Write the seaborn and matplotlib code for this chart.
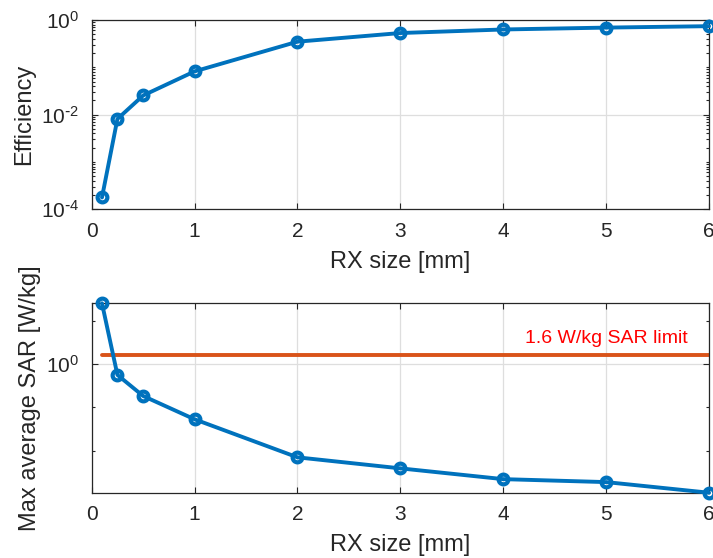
import numpy as np
import pandas as pd
import seaborn as sns
import matplotlib.pyplot as plt
from matplotlib.ticker import NullFormatter

# values
rx_size = [0.1, 0.25, 0.5, 1, 2, 3, 4, 5, 6]
efficiency = [1.78e-4, 0.0081, 0.0254, 0.082, 0.348, 0.53, 0.63, 0.69, 0.74]
max_sar = [25.0, 0.557, 0.182, 0.0528, 0.0070, 0.0039, 0.0022, 0.00188, 0.00107]
sar_limit = 1.6
limit_label = "1.6 W/kg SAR limit"
x_ticks = [0, 1, 2, 3, 4, 5, 6]
eff_ticks = [1e-4, 1e-2, 1e0]
eff_ticklabels = [r"$10^{\text{-}4}$", r"$10^{\text{-}2}$", r"$10^{0}$"]
sar_ticks = [1e0]
sar_ticklabels = [r"$10^{0}$"]
sar_minor = [1e1, 1e-1, 1e-2]

blue = "#0072BD"
orange = "#D95319"
dark = "#262626"

sns.set_style("ticks")
plt.rcParams['font.family'] = ['Liberation Sans', 'DejaVu Sans']
plt.rcParams['mathtext.default'] = 'regular'

df = pd.DataFrame({"rx": rx_size, "eff": efficiency, "sar": max_sar})
limit_df = pd.DataFrame({"rx": [rx_size[0], rx_size[-1]], "sar": [sar_limit, sar_limit]})

fig = plt.figure(figsize=(7.13, 5.58), dpi=100)
ax1 = fig.add_axes([0.1286, 0.6249, 0.8658, 0.3393])
ax2 = fig.add_axes([0.1286, 0.1170, 0.8658, 0.3395])

line_kw = dict(color=blue, lw=2.8, marker='o', markersize=7,
               markerfacecolor='none', markeredgecolor=blue,
               markeredgewidth=3.0, clip_on=False, zorder=3)

sns.lineplot(data=df, x="rx", y="eff", ax=ax1, **line_kw)
sns.lineplot(data=limit_df, x="rx", y="sar", ax=ax2, color=orange, lw=2.8, zorder=2)
sns.lineplot(data=df, x="rx", y="sar", ax=ax2, **line_kw)

ax1.set_yscale('log')
ax1.set_ylim(1e-4, 1)
ax1.set_yticks(eff_ticks, eff_ticklabels)
ax1.set_yticks([k * 10.0**e for e in range(-4, 0) for k in range(2, 10)]
               + [1e-3, 1e-1], minor=True)
ax1.set_ylabel("Efficiency")

ax2.set_yscale('log')
ax2.set_ylim(min(max_sar), max(max_sar))
ax2.set_yticks(sar_ticks, sar_ticklabels)
ax2.set_yticks(sar_minor, minor=True)
ax2.set_ylabel("Max average SAR [W/kg]")
ax2.text(4.21, 3.78, limit_label, color='red', fontsize=14, va='center')

for ax in (ax1, ax2):
    ax.yaxis.set_minor_formatter(NullFormatter())
    ax.set_xlim(0, 6)
    ax.set_xticks(x_ticks)
    ax.set_xlabel("RX size [mm]", fontsize=17, color=dark, labelpad=7)
    ax.yaxis.label.set_size(17)
    ax.yaxis.label.set_color(dark)
    ax.set_axisbelow(True)
    ax.grid(True, which='major', color='#dedede', lw=0.9)
    ax.tick_params(which='both', direction='in', top=True, right=True,
                   color=dark, labelcolor=dark, labelsize=15, width=0.8)
    ax.tick_params(axis='x', pad=9)
    ax.tick_params(axis='y', pad=9)
    ax.tick_params(which='major', length=4.5)
    ax.tick_params(which='minor', length=2.5)
    for s in ax.spines.values():
        s.set_visible(True)
        s.set_color(dark)
        s.set_linewidth(0.9)
    if ax.get_legend() is not None:
        ax.get_legend().remove()

fig.savefig("out.png", dpi=100)
